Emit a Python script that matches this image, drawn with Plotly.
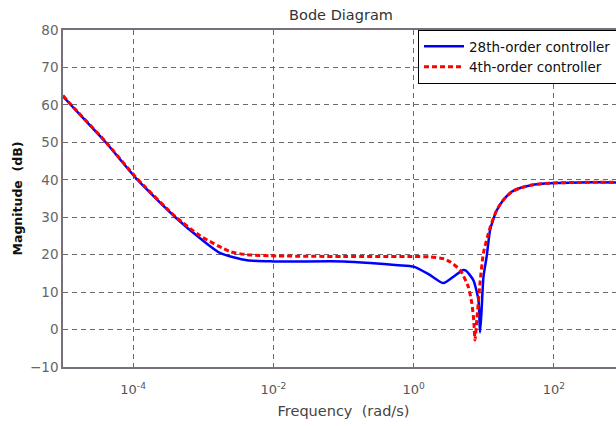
import plotly.graph_objects as go

# Frequency (rad/s) and magnitude (dB) for the two controllers
freq_28 = [1e-5, 1.28e-5, 4.03e-5, 1.14e-4, 4.0e-4, 9.1e-4, 1.75e-3, 4.2e-3, 0.01, 0.1,
           0.24, 0.6, 1.0, 1.7, 2.66, 3.7, 5.1, 5.6, 7.1, 8.4, 8.85, 9.3, 9.9, 11.0,
           12.3, 13.7, 15.3, 19, 25, 33, 51, 88, 235, 1000]
mag_28 = [62.3, 60.1, 50.1, 40.1, 30.0, 24.3, 20.4, 18.5, 18.2, 18.2,
          17.8, 17.2, 16.8, 14.6, 12.4, 14.1, 15.9, 15.7, 13.2, 7.9, -0.8, 5.0, 14.0, 19.5,
          26.5, 29.5, 31.8, 34.6, 36.8, 37.8, 38.7, 39.1, 39.3, 39.3]

freq_4 = [1e-5, 1.28e-5, 4.03e-5, 1.14e-4, 4.0e-4, 9.1e-4, 2.43e-3, 4.2e-3, 9e-3, 0.1,
          1.0, 1.7, 2.7, 3.3, 4.6, 6.0, 6.75, 7.2, 7.5, 8.0, 8.8, 9.9, 12.3, 15.3,
          19, 25, 33, 51, 88, 235, 1000]
mag_4 = [62.5, 60.2, 50.2, 40.3, 30.2, 25.0, 20.8, 20.0, 19.7, 19.5,
         19.5, 19.4, 18.9, 18.1, 15.9, 11.5, 7.1, 2.5, -2.8, 3.0, 12.0, 20.4, 27.2, 31.9,
         34.6, 36.8, 37.8, 38.7, 39.1, 39.3, 39.3]

x_tickvals = [1e-4, 1e-2, 1, 1e2]
x_ticktext = ["10<sup>-4</sup>", "10<sup>-2</sup>", "10<sup>0</sup>", "10<sup>2</sup>"]

FONT = "DejaVu Sans, Verdana, sans-serif"
AXIS_COLOR = "#776f7a"
GRID_COLOR = "#6f6872"

fig = go.Figure()
fig.add_trace(go.Scatter(
    x=freq_28, y=mag_28, mode="lines", name="28th-order controller",
    line=dict(color="#0000ff", width=2.5, shape="spline", smoothing=0.6),
))
fig.add_trace(go.Scatter(
    x=freq_4, y=mag_4, mode="lines", name="4th-order controller",
    line=dict(color="#ff0000", width=3, dash="5px,3px", shape="spline", smoothing=0.6),
))

# The axes run out to 10^3; the figure is a little wider than the page,
# so the right-hand end of the plot (and legend) is cut off by the window.
PLOT_W = 561
fig.update_layout(
    width=680, height=426,
    margin=dict(l=63, r=680 - 63 - PLOT_W, t=30, b=59),
    paper_bgcolor="white", plot_bgcolor="white",
    font=dict(family=FONT, size=12, color="#555555"),
    title=dict(text="Bode Diagram", x=(341 - 63) / PLOT_W, xref="paper", xanchor="center",
               y=1 - 15 / 426, yref="container", yanchor="middle",
               font=dict(family=FONT, size=14.5, color="#333333")),
    showlegend=True,
    legend=dict(x=(418 - 63) / PLOT_W, y=1.0, xanchor="left", yanchor="top",
                bgcolor="white", bordercolor="#000000", borderwidth=1,
                font=dict(family=FONT, size=13.5, color="#111111"),
                tracegroupgap=0, itemwidth=40),
)

fig.update_xaxes(
    type="log", range=[-5.0, 3.0], automargin=False,
    tickvals=x_tickvals, ticktext=x_ticktext,
    showgrid=True, gridcolor=GRID_COLOR, griddash="5px,4px", gridwidth=1,
    showline=True, linecolor=AXIS_COLOR, linewidth=1.5, mirror=True,
    ticks="", zeroline=False, ticklabelstandoff=10,
    tickfont=dict(family=FONT, size=13, color="#555555"),
    title=dict(text="Frequency  (rad/s)", standoff=10,
               font=dict(family=FONT, size=14.5, color="#444444")),
)
fig.update_yaxes(
    range=[-10, 80], dtick=10, automargin=False,
    showgrid=True, gridcolor=GRID_COLOR, griddash="5px,4px", gridwidth=1,
    showline=True, linecolor=AXIS_COLOR, linewidth=1.5, mirror=True,
    ticks="", zeroline=False,
    tickfont=dict(family=FONT, size=13.5, color="#666666"),
    title=dict(text="<b>Magnitude  (dB)</b>", standoff=5,
               font=dict(family=FONT, size=12.5, color="#111111")),
)

fig.write_html(
    "out.html",
    post_script="document.documentElement.style.overflow='hidden';"
                "document.body.style.overflow='hidden';",
)
